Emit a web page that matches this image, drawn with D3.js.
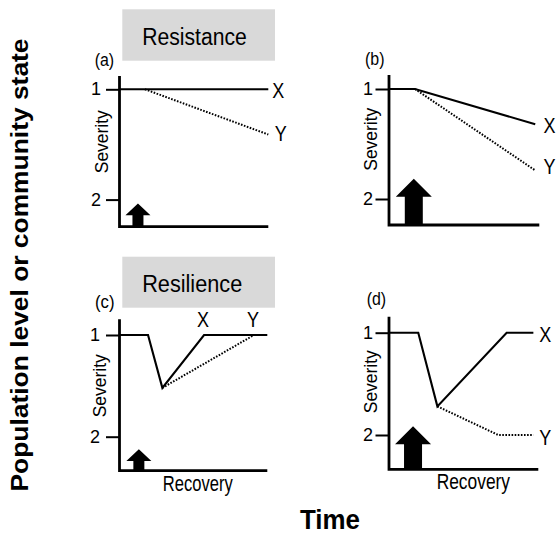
<!DOCTYPE html>
<html>
<head>
<meta charset="utf-8">
<script src="https://cdn.jsdelivr.net/npm/d3@7"></script>
<style>
  html, body { margin: 0; padding: 0; background: #fff; }
  svg { display: block; font-family: "Liberation Sans", Arial, sans-serif; }
</style>
</head>
<body>
<svg id="chart" width="559" height="535"></svg>
<script>
// Panels and their severity trajectories (time 0-10, severity 1 = undisturbed)
const panelIds = ["a", "b", "c", "d"];
const severityTicks = [1, 2];
const seriesNames = ["X", "Y"];
const boxTitles = ["Resistance", "Resilience"];
const xTime = [[0, 10], [0, 1.73, 9.73], [0, 1.93, 2.9, 5.72, 10], [0, 1.96, 3.24, 7.88, 9.67]];
const xSeverity = [[1, 1], [1, 1, 1.32], [1, 1, 1.52, 1, 1], [1, 1, 1.72, 1, 1]];
const yTime = [[1.71, 10], [1.73, 9.73], [2.9, 9.1], [3.24, 7.32, 9.67]];
const ySeverity = [[1, 1.41], [1, 1.74], [1.52, 1], [1.72, 2, 2]];
// Disturbance pulse: relative magnitude and time of the arrow
const pulseSize = [1, 2, 1, 2];
const pulseTime = [1.24, 1.65, 1.31, 1.61];

const svg = d3.select("#chart");

// Panel frames (pixel layout)
const layout = [
  { x0: 119.5, x1: 268.3, y1: 89.3, y2: 199.6, top: 76, bottom: 226.7, pad: 5, sevX: 108.2, sevY: 141.7, lab: [94.7, 66] },
  { x0: 389, x1: 539.3, y1: 89, y2: 199, top: 75, bottom: 225, pad: 2.5, sevX: 377.2, sevY: 139.2, lab: [365, 64.6] },
  { x0: 119.5, x1: 267.3, y1: 335, y2: 436.7, top: 319.3, bottom: 470.7, pad: 6, sevX: 106, sevY: 385.8, lab: [95, 308] },
  { x0: 389, x1: 538.3, y1: 332.7, y2: 435, top: 316.7, bottom: 469.3, pad: 2.5, sevX: 377.2, sevY: 381.7, lab: [366.7, 304.6] }
];
// Where the X / Y end labels sit relative to the series end point: [dx, dy]
const endLabelOffset = [
  [[4, 9], [6.5, 6.7]],
  [[8.3, 9], [8.3, 3.3]],
  null,
  [[6, 9], [6, 10]]
];
const recoveryText = [null, null, { x: 162.7, y: 491, len: 70 }, { x: 436.7, y: 489, len: 73.3 }];

function fitText(sel, str, o) {
  const t = sel.append("text")
    .attr("x", o.x).attr("y", o.y)
    .attr("font-size", o.size)
    .attr("font-weight", o.weight || "normal")
    .attr("text-anchor", o.anchor || "start")
    .attr("fill", "#000")
    .text(str);
  if (o.len) t.attr("textLength", o.len).attr("lengthAdjust", "spacingAndGlyphs");
  if (o.rotate) t.attr("transform", `rotate(${o.rotate},${o.x},${o.y})`);
  return t;
}

// Title boxes
const boxRows = [[9.3, 60.7, 45], [256.7, 307.7, 291.7]];
boxTitles.forEach((title, i) => {
  const [y0, y1, base] = boxRows[i];
  svg.append("rect").attr("x", 122.3).attr("y", y0).attr("width", 152.7).attr("height", y1 - y0).attr("fill", "#d9d9d9");
  fitText(svg, title, { x: 142.2, y: base, size: 23.3, len: i === 0 ? 104.6 : 100 });
});

const line = d3.line();

panelIds.forEach((id, i) => {
  const L = layout[i];
  const x = d3.scaleLinear().domain([0, 10]).range([L.x0, L.x1]);
  const y = d3.scaleLinear().domain([1, 2]).range([L.y1, L.y2]);
  const g = svg.append("g");

  // Severity ticks
  const axis = d3.axisLeft(y).tickValues(severityTicks).tickSize(13.5).tickPadding(L.pad).tickFormat(d3.format("d"));
  const ag = g.append("g").attr("transform", `translate(${L.x0},0)`).call(axis);
  ag.select(".domain").remove();
  ag.selectAll(".tick line").attr("stroke", "#000").attr("stroke-width", 2);
  ag.selectAll(".tick text").attr("font-size", 18).attr("fill", "#000")
    .attr("font-family", "'Liberation Sans', Arial, sans-serif").attr("dy", "0.3em");

  // Disturbance arrow
  const big = pulseSize[i] > 1;
  const headW = big ? 36 : 25, shaftW = big ? 18 : 11;
  const arrowLen = y(1 + 0.21 * pulseSize[i]) - y(1);
  const headH = big ? 18 : 11.7;
  const cx = x(pulseTime[i]), base = L.bottom, tip = base - arrowLen, hb = tip + headH;
  g.append("path")
    .attr("d", `M${cx - shaftW / 2},${base}V${hb}H${cx - headW / 2}L${cx},${tip}L${cx + headW / 2},${hb}H${cx + shaftW / 2}V${base}Z`)
    .attr("fill", "#000");

  // Axis frame
  g.append("path")
    .attr("d", `M${L.x0},${L.top}V${L.bottom}H${L.x1}`)
    .attr("fill", "none").attr("stroke", "#000").attr("stroke-width", 2.8)
    .attr("stroke-linejoin", "miter");

  // Series X (solid) and Y (dotted)
  const ptsX = xTime[i].map((t, k) => [x(t), y(xSeverity[i][k])]);
  const ptsY = yTime[i].map((t, k) => [x(t), y(ySeverity[i][k])]);
  g.append("path").attr("d", line(ptsY)).attr("fill", "none").attr("stroke", "#000")
    .attr("stroke-width", 2).attr("stroke-dasharray", "1.6,1.5");
  g.append("path").attr("d", line(ptsX)).attr("fill", "none").attr("stroke", "#000")
    .attr("stroke-width", 2.1).attr("stroke-linejoin", "miter");

  // Series labels
  [ptsX, ptsY].forEach((pts, s) => {
    if (endLabelOffset[i]) {
      const p = pts[pts.length - 1];
      const [dx, dy] = endLabelOffset[i][s];
      fitText(g, seriesNames[s], { x: p[0] + dx, y: p[1] + dy, size: 21.5, len: 12 });
    } else {
      // labels above the point where each series returns to severity 1
      const src = s === 0 ? xSeverity[i] : ySeverity[i];
      const times = s === 0 ? xTime[i] : yTime[i];
      let k = src.findIndex((v, j) => j > 0 && v === 1 && src[j - 1] !== 1);
      if (k < 0) k = src.length - 1;
      fitText(g, seriesNames[s], { x: x(times[k]) - 1, y: y(1) - 8.3, size: 21.5, len: 12, anchor: "middle" });
    }
  });

  // Panel letter and y label
  fitText(g, `(${id})`, { x: L.lab[0], y: L.lab[1], size: 17.5, len: 19.5 });
  fitText(g, "Severity", { x: L.sevX, y: L.sevY, size: 17.5, len: 63, anchor: "middle", rotate: -90 });

  if (recoveryText[i]) {
    const r = recoveryText[i];
    fitText(g, "Recovery", { x: r.x, y: r.y, size: 21.5, len: r.len });
  }
});

// Overall axis titles
fitText(svg, "Population level or community state", { x: 27.8, y: 265, size: 24.8, weight: "bold", len: 453, anchor: "middle", rotate: -90 });
fitText(svg, "Time", { x: 300, y: 529, size: 27.5, weight: "bold", len: 60 });
</script>
</body>
</html>
